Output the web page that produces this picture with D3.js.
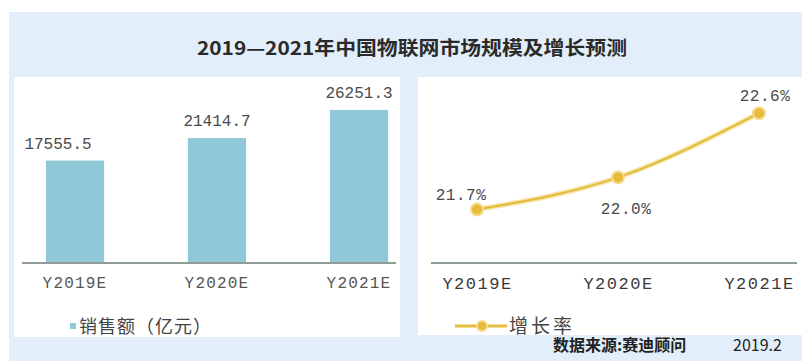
<!DOCTYPE html>
<html>
<head>
<meta charset="utf-8">
<script src="https://cdn.jsdelivr.net/npm/d3@7"></script>
<style>
    body { margin: 0; background: #fff; }
    svg { display: block; }
    .num { font-family: "Liberation Mono", "DejaVu Sans Mono", monospace; fill: #4a4a4a; }
    .cjk { font-family: "Noto Sans CJK SC", sans-serif; fill: #333; }
</style>
</head>
<body>
<div id="chart"></div>
<script>
    var title = "2019\u20142021年中国物联网市场规模及增长预测";
    var years = ["Y2019E", "Y2020E", "Y2021E"];
    var sales = [17555.5, 21414.7, 26251.3];
    var growth = [21.7, 22.0, 22.6];
    var salesLegend = "销售额（亿元）";
    var growthLegend = "增长率";
    var source = "数据来源:赛迪顾问";
    var sourceDate = "2019.2";

    var W = 802, H = 361;

    var svg = d3.select("#chart").append("svg")
        .attr("width", W)
        .attr("height", H);

    // light blue backdrop
    svg.append("rect")
        .attr("x", 9).attr("y", 12)
        .attr("width", W - 9).attr("height", H - 12)
        .attr("fill", "#e2eef9");

    svg.append("text")
        .attr("class", "cjk")
        .attr("x", 412).attr("y", 55)
        .attr("text-anchor", "middle")
        .attr("font-size", "19px")
        .attr("font-weight", "bold")
        .attr("textLength", 430)
        .attr("lengthAdjust", "spacingAndGlyphs")
        .style("fill", "#2a2a2a")
        .text(title);

    // two white panels
    var left = {x: 14, y: 77, w: 386, h: 260};
    var right = {x: 418, y: 77, w: 384, h: 258};

    [left, right].forEach(function(p) {
        svg.append("rect")
            .attr("x", p.x).attr("y", p.y)
            .attr("width", p.w).attr("height", p.h)
            .attr("fill", "#fff");
    });

    var baseY = 263;

    // ---- bar chart ----
    var xb = d3.scaleBand()
        .domain(years)
        .range([5, 429])
        .paddingInner(0.59)
        .paddingOuter(0.288);

    var yb = d3.scaleLinear()
        .domain([0, 30000])
        .range([baseY, 88]);

    var gb = svg.append("g");

    gb.selectAll(".bar")
        .data(sales)
        .enter().append("rect")
        .attr("class", "bar")
        .attr("x", function(d, i) { return xb(years[i]); })
        .attr("y", function(d) { return yb(d); })
        .attr("width", xb.bandwidth())
        .attr("height", function(d) { return baseY - yb(d); })
        .attr("fill", "#90c8d7");

    var xAxisB = d3.axisBottom(xb).tickSize(0).tickPadding(14);
    var axB = gb.append("g")
        .attr("transform", "translate(0," + baseY + ")")
        .call(xAxisB);
    axB.select(".domain").remove();
    axB.selectAll("text")
        .attr("class", "num")
        .attr("font-size", "16px")
        .attr("letter-spacing", "1.2px")
        .style("fill", "#555");

    gb.append("line")
        .attr("x1", 22).attr("x2", 396)
        .attr("y1", baseY).attr("y2", baseY)
        .attr("stroke", "#8f9c98")
        .attr("stroke-width", 2);

    gb.selectAll(".bar-label")
        .data(sales)
        .enter().append("text")
        .attr("class", "num bar-label")
        .attr("x", function(d, i) { return xb(years[i]) + xb.bandwidth() / 2 - (i === 0 ? 17 : 0); })
        .attr("y", function(d) { return yb(d) - 12; })
        .attr("text-anchor", "middle")
        .attr("font-size", "16px")
        .text(function(d) { return d3.format(".1f")(d); });

    gb.append("rect")
        .attr("x", 70).attr("y", 323)
        .attr("width", 6).attr("height", 6)
        .attr("fill", "#90c8d7");
    gb.append("text")
        .attr("class", "cjk")
        .attr("x", 79).attr("y", 333)
        .attr("font-size", "18px")
        .attr("letter-spacing", "1px")
        .style("fill", "#444")
        .text(salesLegend);

    // ---- line chart ----
    var xl = d3.scalePoint()
        .domain(years)
        .range([477, 759]);

    var yl = d3.scaleLinear()
        .domain([21.2, 22.7])
        .range([baseY, baseY - 1.5 * 107]);

    var gl = svg.append("g");

    gl.append("line")
        .attr("x1", 431).attr("x2", 797)
        .attr("y1", baseY).attr("y2", baseY)
        .attr("stroke", "#8f9c98")
        .attr("stroke-width", 2);

    var xAxisL = d3.axisBottom(xl).tickSize(0).tickPadding(14);
    var axL = gl.append("g")
        .attr("transform", "translate(0," + baseY + ")")
        .call(xAxisL);
    axL.select(".domain").remove();
    axL.selectAll("text")
        .attr("class", "num")
        .attr("font-size", "17px")
        .attr("letter-spacing", "1.5px")
        .style("fill", "#3a3a3a");

    var line = d3.line()
        .x(function(d, i) { return xl(years[i]); })
        .y(function(d) { return yl(d); })
        .curve(d3.curveMonotoneX);

    gl.append("path")
        .attr("d", line(growth))
        .attr("fill", "none")
        .attr("stroke", "#f7e3a0")
        .attr("stroke-width", 5);
    gl.append("path")
        .attr("d", line(growth))
        .attr("fill", "none")
        .attr("stroke", "#e2b93b")
        .attr("stroke-width", 2);

    gl.selectAll(".dot")
        .data(growth)
        .enter().append("circle")
        .attr("class", "dot")
        .attr("cx", function(d, i) { return xl(years[i]); })
        .attr("cy", function(d) { return yl(d); })
        .attr("r", 6)
        .attr("fill", "#e8bb3c")
        .attr("stroke", "#f6dc8e")
        .attr("stroke-width", 2);

    var labelOff = [[-16, -10], [8, 37], [6, -12]];
    gl.selectAll(".rate-label")
        .data(growth)
        .enter().append("text")
        .attr("class", "num rate-label")
        .attr("x", function(d, i) { return xl(years[i]) + labelOff[i][0]; })
        .attr("y", function(d, i) { return yl(d) + labelOff[i][1]; })
        .attr("text-anchor", "middle")
        .attr("font-size", "16px")
        .attr("letter-spacing", "0.5px")
        .text(function(d) { return d3.format(".1f")(d) + "%"; });

    var legX = 455, legY = 326;
    gl.append("line")
        .attr("x1", legX).attr("x2", legX + 52)
        .attr("y1", legY).attr("y2", legY)
        .attr("stroke", "#e8bb3c")
        .attr("stroke-width", 3);
    gl.append("circle")
        .attr("cx", legX + 27).attr("cy", legY)
        .attr("r", 5)
        .attr("fill", "#e8bb3c")
        .attr("stroke", "#f6dc8e")
        .attr("stroke-width", 2);
    gl.append("text")
        .attr("class", "cjk")
        .attr("x", legX + 54).attr("y", legY + 7)
        .attr("font-size", "19px")
        .attr("letter-spacing", "3px")
        .style("fill", "#444")
        .text(growthLegend);

    svg.append("text")
        .attr("class", "cjk")
        .attr("x", 553).attr("y", 351)
        .attr("font-size", "16px")
        .attr("font-weight", "bold")
        .style("fill", "#222")
        .text(source);
    svg.append("text")
        .attr("class", "cjk")
        .attr("x", 733).attr("y", 351)
        .attr("font-size", "16px")
        .style("fill", "#222")
        .text(sourceDate);
</script>
</body>
</html>
